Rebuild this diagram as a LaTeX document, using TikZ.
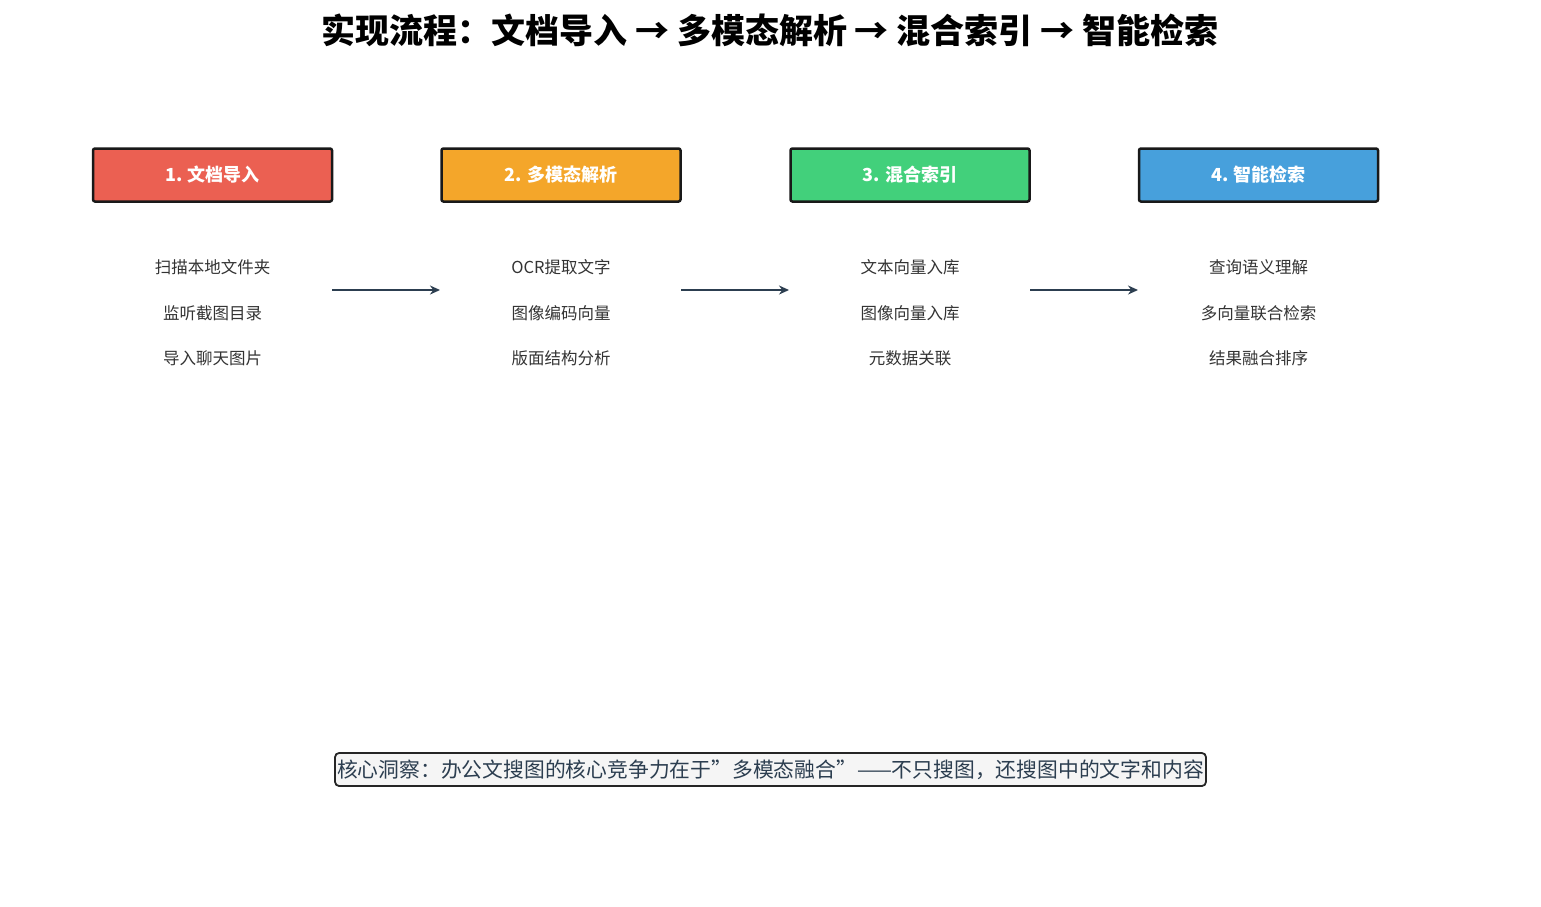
\documentclass[tikz,border=0pt]{standalone}
\usepackage{fontspec}
\setmainfont{Noto Sans CJK SC}
\usetikzlibrary{arrows.meta}
\definecolor{dk}{HTML}{2C3E50}
\begin{document}
\begin{tikzpicture}[x=1pt,y=-1pt,
 stage/.style={draw=black!90,line width=2.5pt,rounded corners=2pt,minimum width=239pt,minimum height=53pt,text=white,font=\fontsize{18}{21}\selectfont\bfseries},
 item/.style={text=black!80,font=\fontsize{16.5}{19}\selectfont},
 arr/.style={draw=dk,line width=2.6pt,-{Stealth[length=10pt,width=9pt]}}]
\useasboundingbox (0,0) rectangle (1541,906);
\node[font=\fontsize{34}{38}\selectfont\bfseries] (title) at (770,30) {实现流程：文档导入 → 多模态解析 → 混合索引 → 智能检索};
\definecolor{c1}{HTML}{EB6052}\definecolor{c2}{HTML}{F4A62A}\definecolor{c3}{HTML}{42D07B}\definecolor{c4}{HTML}{47A0DC}
\node[stage,fill=c1] (s1) at (212.5,175) {1. 文档导入};
\node[stage,fill=c2] (s2) at (561,175) {2. 多模态解析};
\node[stage,fill=c3] (s3) at (910,175) {3. 混合索引};
\node[stage,fill=c4] (s4) at (1258.5,175) {4. 智能检索};
\foreach \n/\x/\a/\b/\c in {1/212.5/扫描本地文件夹/监听截图目录/导入聊天图片,2/561/OCR提取文字/图像编码向量/版面结构分析,3/910/文本向量入库/图像向量入库/元数据关联,4/1258.5/查询语义理解/多向量联合检索/结果融合排序}{
 \node[item] (a\n) at (\x,267) {\a};
 \node[item] (b\n) at (\x,313) {\b};
 \node[item] (c\n) at (\x,358) {\c};
}
\coordinate (p1) at (332,290);\coordinate (q1) at (440,290);
\coordinate (p2) at (681,290);\coordinate (q2) at (789,290);
\coordinate (p3) at (1030,290);\coordinate (q3) at (1138,290);
\draw[arr] (p1)--(q1);\draw[arr] (p2)--(q2);\draw[arr] (p3)--(q3);
\node[draw=black!85,line width=1.8pt,fill=gray!8,rounded corners=4pt,minimum width=869pt,minimum height=33pt,text=dk,font=\fontsize{20.8}{23}\selectfont,inner sep=2pt] (note) at (770.5,769.5) {核心洞察：办公文搜图的核心竞争力在于\symbol{"22}多模态融合\symbol{"22}——不只搜图，还搜图中的文字和内容};
\end{tikzpicture}
\end{document}
